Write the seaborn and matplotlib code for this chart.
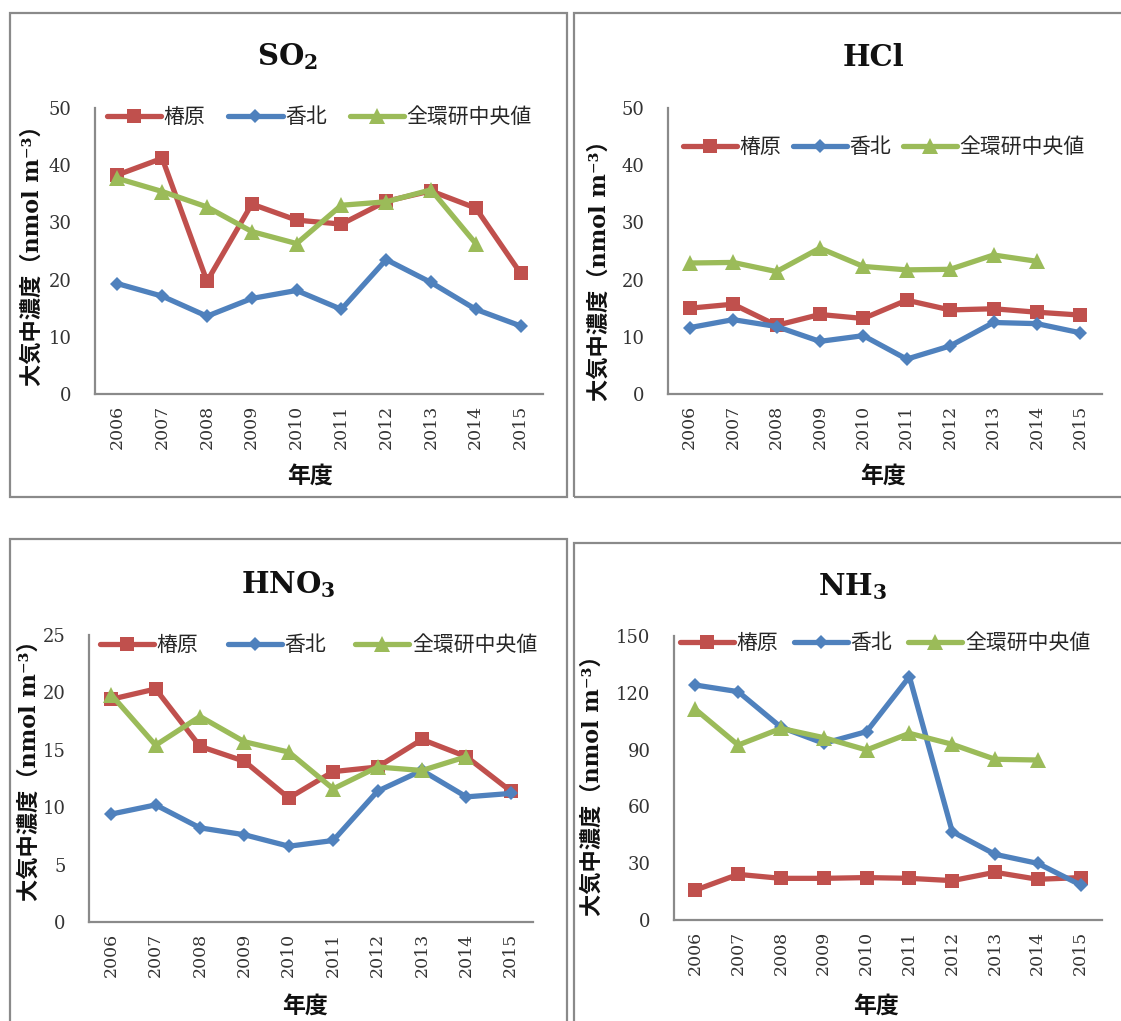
import numpy as np
import pandas as pd
import matplotlib
matplotlib.use("Agg")
import matplotlib.pyplot as plt
import seaborn as sns
from matplotlib.lines import Line2D
from matplotlib.patches import Rectangle

# ---- data -------------------------------------------------------------
years = list(range(2006, 2016))
sites = ["椿原", "香北", "全環研中央値"]

so2_tsubakihara = [38.3, 41.2, 19.7, 33.2, 30.4, 29.7, 33.7, 35.5, 32.5, 21.1]
so2_kahoku = [19.3, 17.1, 13.6, 16.7, 18.1, 14.8, 23.5, 19.5, 14.8, 11.9]
so2_median = [37.7, 35.4, 32.7, 28.4, 26.3, 33.0, 33.6, 35.7, 26.3, np.nan]

hcl_tsubakihara = [15.0, 15.7, 12.0, 13.9, 13.2, 16.4, 14.7, 14.9, 14.3, 13.8]
hcl_kahoku = [11.6, 13.0, 11.8, 9.2, 10.2, 6.1, 8.4, 12.5, 12.3, 10.7]
hcl_median = [22.9, 23.0, 21.4, 25.5, 22.3, 21.7, 21.8, 24.3, 23.2, np.nan]

hno3_tsubakihara = [19.4, 20.3, 15.3, 14.0, 10.8, 13.1, 13.5, 15.9, 14.4, 11.4]
hno3_kahoku = [9.4, 10.2, 8.2, 7.6, 6.6, 7.1, 11.4, 13.2, 10.9, 11.2]
hno3_median = [19.8, 15.4, 17.9, 15.7, 14.8, 11.6, 13.5, 13.2, 14.4, np.nan]

nh3_tsubakihara = [15.8, 24.1, 22.0, 22.0, 22.4, 22.0, 20.8, 25.2, 21.5, 22.4]
nh3_kahoku = [124.1, 120.6, 101.8, 93.3, 99.5, 128.5, 46.7, 34.7, 29.9, 18.5]
nh3_median = [111.3, 92.4, 101.2, 96.3, 89.8, 98.6, 92.8, 84.9, 84.5, np.nan]

# ---- styling ----------------------------------------------------------
W, H = 1121, 1021
sns.set_theme(style="white")
plt.rcParams["font.family"] = ["DejaVu Serif", "Noto Sans CJK JP", "DejaVu Sans"]
plt.rcParams["mathtext.default"] = "regular"

colors = {"椿原": "#C0504D", "香北": "#4F81BD", "全環研中央値": "#9BBB59"}
markers = {"椿原": "s", "香北": "D", "全環研中央値": "^"}
msizes = {"椿原": 10.5, "香北": 7.5, "全環研中央値": 11.5}
LW = 3.8
GRAY = "#8a8a8a"
TICK_COLOR = "#333333"
serif = "DejaVu Serif"
label_family = ["DejaVu Serif", "Noto Sans CJK JP", "DejaVu Sans"]
legend_family = ["Noto Sans CJK JP", "DejaVu Sans"]

panels = [
    dict(title="SO$_2$", values=[so2_tsubakihara, so2_kahoku, so2_median],
         ymax=50, step=10, ax=(95, 108, 543, 394), box=(10, 13, 567, 497),
         title_xy=(288, 57), xlab_xy=(310, 477), ylab_xy=(33, 250),
         leg_xy=(107, 117), colsp=1.1),
    dict(title="HCl", values=[hcl_tsubakihara, hcl_kahoku, hcl_median],
         ymax=50, step=10, ax=(668, 108, 1102, 394), box=(574, 13, 1130, 497),
         title_xy=(873, 57), xlab_xy=(883, 477), ylab_xy=(600, 265),
         leg_xy=(683, 147), colsp=0.55),
    dict(title="HNO$_3$", values=[hno3_tsubakihara, hno3_kahoku, hno3_median],
         ymax=25, step=5, ax=(89, 635, 533, 922), box=(10, 539, 567, 1040),
         title_xy=(288, 585), xlab_xy=(305, 1007), ylab_xy=(30, 765),
         leg_xy=(100, 645), colsp=1.4),
    dict(title="NH$_3$", values=[nh3_tsubakihara, nh3_kahoku, nh3_median],
         ymax=150, step=30, ax=(674, 636, 1102, 920), box=(574, 543, 1130, 1040),
         title_xy=(853, 587), xlab_xy=(876, 1007), ylab_xy=(593, 780),
         leg_xy=(680, 643), colsp=0.75),
]

fig = plt.figure(figsize=(W / 100, H / 100), dpi=100)


def fx(x):
    return x / W


def fy(y):
    return 1 - y / H


for p in panels:
    bx0, by0, bx1, by1 = p["box"]
    fig.add_artist(Rectangle((fx(bx0), fy(by1)), fx(bx1 - bx0), (by1 - by0) / H,
                             transform=fig.transFigure, fill=False, ec=GRAY, lw=1.6))

    x0, y0, x1, y1 = p["ax"]
    ax = fig.add_axes([fx(x0), fy(y1), fx(x1 - x0), (y1 - y0) / H])
    ax.set_facecolor("none")

    for site, vals in zip(sites, p["values"]):
        df = pd.DataFrame({"年度": years, "濃度": vals}).dropna()
        sns.lineplot(data=df, x="年度", y="濃度", ax=ax, color=colors[site],
                     marker=markers[site], markersize=msizes[site],
                     markeredgewidth=0, linewidth=LW, legend=False,
                     errorbar=None, solid_capstyle="round", solid_joinstyle="round")

    ax.set_xlim(2005.5, 2015.5)
    ax.set_ylim(0, p["ymax"])
    ax.set_xticks(years)
    ax.set_xticklabels([str(y) for y in years], rotation=90,
                       fontsize=12.5, color=TICK_COLOR, family=serif)
    yt = list(range(0, p["ymax"] + 1, p["step"]))
    ax.set_yticks(yt)
    ax.set_yticklabels([str(v) for v in yt], fontsize=13, color=TICK_COLOR,
                       family=serif)
    ax.tick_params(axis="x", length=0, pad=8)
    ax.tick_params(axis="y", length=0, pad=17)
    ax.set_xlabel("")
    ax.set_ylabel("")
    for side in ("top", "right"):
        ax.spines[side].set_visible(False)
    for side in ("left", "bottom"):
        ax.spines[side].set_color(GRAY)
        ax.spines[side].set_linewidth(1.6)

    handles = [Line2D([], [], color=colors[s], marker=markers[s], markersize=msizes[s],
                      markeredgewidth=0, linewidth=LW, solid_capstyle="round")
               for s in sites]
    lx, ly = p["leg_xy"]
    ax.legend(handles, sites, loc="center left", bbox_to_anchor=(fx(lx), fy(ly)),
              bbox_transform=fig.transFigure, ncol=3, frameon=False,
              handlelength=2.6, handletextpad=0.12, columnspacing=p["colsp"],
              borderpad=0, borderaxespad=0,
              prop={"family": legend_family, "size": 15})

    tx, ty = p["title_xy"]
    fig.text(fx(tx), fy(ty), p["title"], ha="center", va="center",
             fontsize=21, fontweight="bold", family=serif, color="#111111")
    xx, xy = p["xlab_xy"]
    fig.text(fx(xx), fy(xy), "年度", ha="center", va="center",
             fontsize=16.5, fontweight="bold", family=label_family, color="#111111")
    yx, yy = p["ylab_xy"]
    fig.text(fx(yx), fy(yy), "大気中濃度（nmol m⁻³）", ha="center", va="center",
             rotation=90, fontsize=16, fontweight="bold", family=label_family,
             color="#111111")

fig.savefig("out.png", dpi=100, facecolor="white")
